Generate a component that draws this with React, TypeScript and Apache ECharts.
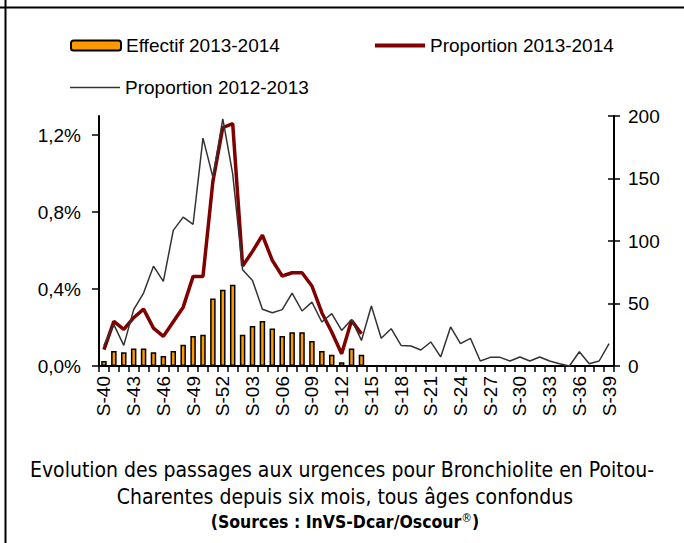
import React, { useEffect, useRef } from "react";
import * as echarts from "echarts";

const weeks = [
  "S-40", "S-41", "S-42", "S-43", "S-44", "S-45", "S-46", "S-47", "S-48", "S-49", "S-50", "S-51", "S-52",
  "S-01", "S-02", "S-03", "S-04", "S-05", "S-06", "S-07", "S-08", "S-09", "S-10", "S-11", "S-12", "S-13",
  "S-14", "S-15", "S-16", "S-17", "S-18", "S-19", "S-20", "S-21", "S-22", "S-23", "S-24", "S-25", "S-26",
  "S-27", "S-28", "S-29", "S-30", "S-31", "S-32", "S-33", "S-34", "S-35", "S-36", "S-37", "S-38", "S-39",
];

const effectif1314 = [4, 12, 11, 14, 14, 11, 8, 12, 17, 24, 25, 54, 61, 65, 25, 32, 36, 30, 24, 27, 27, 20, 12, 9, 3, 14, 9];

const proportion1314 = [
  0.085, 0.232, 0.19, 0.251, 0.296, 0.197, 0.154, 0.23, 0.306, 0.466, 0.466, 0.96, 1.24, 1.26,
  0.52, 0.596, 0.68, 0.549, 0.468, 0.485, 0.485, 0.416, 0.277, 0.177, 0.064, 0.237, 0.168,
];

const proportion1213 = [
  0.107, 0.215, 0.107, 0.293, 0.379, 0.519, 0.44, 0.705, 0.774, 0.737,
  1.185, 0.982, 1.285, 0.999, 0.5, 0.445, 0.295, 0.277, 0.293, 0.379,
  0.286, 0.332, 0.229, 0.272, 0.185, 0.242, 0.133, 0.312, 0.144, 0.194,
  0.107, 0.104, 0.083, 0.125, 0.047, 0.203, 0.116, 0.144, 0.026, 0.045,
  0.045, 0.026, 0.047, 0.026, 0.047, 0.026, 0.012, 0, 0.074, 0.012,
  0.026, 0.116,
];

const leftTicks = [0, 0.4, 0.8, 1.2];

const SANS = "'Liberation Sans', Arial, sans-serif";
const NARROW = "'DejaVu Sans Condensed', 'Liberation Sans', sans-serif";

export default function App() {
  const ref = useRef<HTMLDivElement>(null);

  useEffect(() => {
    if (!ref.current) return;
    const chart = echarts.init(ref.current, undefined, { renderer: "svg" });
    const legendText = { fontSize: 19, fontFamily: SANS, color: "#000" };
    chart.setOption({
      animation: false,
      backgroundColor: "#fff",
      legend: [
        {
          data: ["Effectif 2013-2014"],
          left: 70,
          top: 36,
          padding: 0,
          itemWidth: 50,
          itemHeight: 10,
          textStyle: legendText,
        },
        {
          data: [{ name: "Proportion 2013-2014", icon: "rect" }],
          left: 375,
          top: 36,
          padding: 0,
          itemWidth: 50,
          itemHeight: 4,
          textStyle: legendText,
        },
        {
          data: [{ name: "Proportion 2012-2013", icon: "rect" }],
          left: 70,
          top: 78,
          padding: 0,
          itemWidth: 50,
          itemHeight: 1.5,
          textStyle: legendText,
        },
      ],
      grid: { left: 99, right: 70, top: 116, bottom: 177, containLabel: false },
      xAxis: {
        type: "category",
        data: weeks,
        boundaryGap: true,
        axisLine: { show: true, lineStyle: { color: "#000", width: 2 } },
        axisTick: { show: true, interval: 0, length: 6, lineStyle: { color: "#000", width: 1.5 } },
        axisLabel: {
          interval: 2,
          rotate: 90,
          fontSize: 19,
          fontFamily: SANS,
          color: "#000",
          margin: 10,
        },
        splitLine: { show: false },
      },
      yAxis: [
        {
          type: "value",
          position: "left",
          min: 0,
          max: 1.3,
          axisLine: { show: true, lineStyle: { color: "#000", width: 2 } },
          axisTick: {
            show: true,
            length: 7,
            customValues: leftTicks,
            lineStyle: { color: "#000", width: 1.5 },
          },
          axisLabel: {
            customValues: leftTicks,
            fontSize: 19,
            fontFamily: SANS,
            color: "#000",
            margin: 18,
            formatter: (v: number) => v.toFixed(1).replace(".", ",") + "%",
          },
          splitLine: { show: false },
        },
        {
          type: "value",
          position: "right",
          min: 0,
          max: 200,
          interval: 50,
          axisLine: { show: true, lineStyle: { color: "#000", width: 2 } },
          axisTick: { show: true, length: 6, lineStyle: { color: "#000", width: 1.5 } },
          axisLabel: { fontSize: 19, fontFamily: SANS, color: "#000", margin: 14 },
          splitLine: { show: false },
        },
        {
          type: "value",
          position: "right",
          min: 0,
          max: 200,
          interval: 50,
          axisLine: { show: false },
          axisTick: { show: true, inside: true, length: 6, lineStyle: { color: "#000", width: 1.5 } },
          axisLabel: { show: false },
          splitLine: { show: false },
        },
      ],
      series: [
        {
          name: "Effectif 2013-2014",
          type: "bar",
          yAxisIndex: 1,
          data: effectif1314,
          barWidth: 5.5,
          itemStyle: { color: "#FF9900", borderColor: "#000", borderWidth: 1.5 },
          z: 2,
        },
        {
          name: "Proportion 2013-2014",
          type: "line",
          yAxisIndex: 0,
          data: proportion1314,
          symbol: "none",
          lineStyle: { color: "#800000", width: 3.5 },
          itemStyle: { color: "#800000" },
          z: 3,
        },
        {
          name: "Proportion 2012-2013",
          type: "line",
          yAxisIndex: 0,
          data: proportion1213,
          symbol: "none",
          lineStyle: { color: "#333333", width: 1.5 },
          itemStyle: { color: "#333333" },
          z: 4,
        },
      ],
      graphic: [
        {
          type: "line",
          shape: { x1: 0, y1: 7.5, x2: 684, y2: 7.5 },
          style: { stroke: "#000", lineWidth: 2 },
        },
        {
          type: "line",
          shape: { x1: 5.5, y1: 0, x2: 5.5, y2: 543 },
          style: { stroke: "#000", lineWidth: 2 },
        },
        {
          type: "text",
          x: 342,
          y: 470,
          style: {
            text: "Evolution des passages aux urgences pour Bronchiolite en Poitou-",
            fontSize: 21,
            fontFamily: NARROW,
            fill: "#000",
            align: "center",
            verticalAlign: "middle",
          },
        },
        {
          type: "text",
          x: 345,
          y: 497,
          style: {
            text: "Charentes depuis six mois, tous âges confondus",
            fontSize: 21,
            fontFamily: NARROW,
            fill: "#000",
            align: "center",
            verticalAlign: "middle",
          },
        },
        {
          type: "text",
          x: 345,
          y: 522,
          style: {
            text: "{m|(Sources : InVS-Dcar/Oscour}{s|®}{m|)}",
            align: "center",
            verticalAlign: "middle",
            rich: {
              m: { fontSize: 17.5, fontFamily: NARROW, fontWeight: "bold", fill: "#000", color: "#000" },
              s: {
                fontSize: 12,
                fontFamily: NARROW,
                fill: "#000",
                color: "#000",
                verticalAlign: "top",
                padding: [0, 0, 8, 0],
              },
            },
          },
        },
      ],
    });
    return () => chart.dispose();
  }, []);

  return (
    <div
      ref={ref}
      style={{ position: "absolute", left: 0, top: 0, width: 684, height: 543 }}
    />
  );
}
